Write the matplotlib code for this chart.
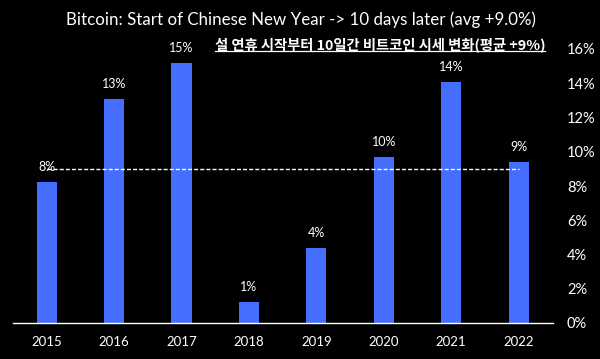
import matplotlib.pyplot as plt
import numpy as np

years = ['2015', '2016', '2017', '2018', '2019', '2020', '2021', '2022']
returns = [8.25, 13.1, 15.2, 1.25, 4.4, 9.7, 14.1, 9.4]
labels = ['8%', '13%', '15%', '1%', '4%', '10%', '14%', '9%']
avg = 9.0
yticks = [0, 2, 4, 6, 8, 10, 12, 14, 16]

fig = plt.figure(figsize=(6, 3.59), dpi=100, facecolor='black')
# axes from x=13px to 553px, baseline at y=323px, 16% at y=49px
ax = fig.add_axes([13 / 600, 36 / 359, 540 / 600, 274 / 359], facecolor='black')

x = np.arange(len(years))
ax.bar(x, returns, width=0.3, color='#456eff', zorder=2)
for xi, v, lab in zip(x, returns, labels):
    ax.text(xi, v + 0.85, lab, color='white', ha='center', va='center', fontsize=9, family='Lato')

ax.plot([0, 7], [avg, avg], color='white', lw=1, ls=(0, (2.9, 1.5)), zorder=3)

ax.set_xlim(-0.5, 7.51)
ax.set_ylim(0, 16)
ax.set_xticks(x)
ax.set_xticklabels(years, color='white', fontsize=9.5, family='Lato')
ax.yaxis.tick_right()
ax.set_yticks(yticks)
ax.set_yticklabels([f'{t}%' for t in yticks], color='white', fontsize=10.5, family='Lato')
ax.tick_params(axis='both', length=0)
ax.tick_params(axis='x', pad=9)
ax.tick_params(axis='y', pad=10)
for s in ['top', 'left', 'right']:
    ax.spines[s].set_visible(False)
ax.spines['bottom'].set_color('white')
ax.spines['bottom'].set_linewidth(1)

fig.text(301 / 600, 1 - 20 / 359, 'Bitcoin: Start of Chinese New Year -> 10 days later (avg +9.0%)',
         color='white', ha='center', va='center', fontsize=12.2, family='Lato')
sub = fig.text(380 / 600, 1 - 45 / 359, '설 연휴 시작부터 10일간 비트코인 시세 변화(평균 +9%)',
               color='white', ha='center', va='center', fontsize=10.3, fontweight='bold',
               family=['Noto Sans CJK KR', 'DejaVu Sans'])

fig.canvas.draw()
bb = sub.get_window_extent().transformed(fig.transFigure.inverted())
uy = 1 - 51 / 359
fig.add_artist(plt.Line2D([bb.x0, bb.x1], [uy, uy], color='white', lw=0.9,
                          transform=fig.transFigure))

fig.savefig('out.png', dpi=100, facecolor='black')
